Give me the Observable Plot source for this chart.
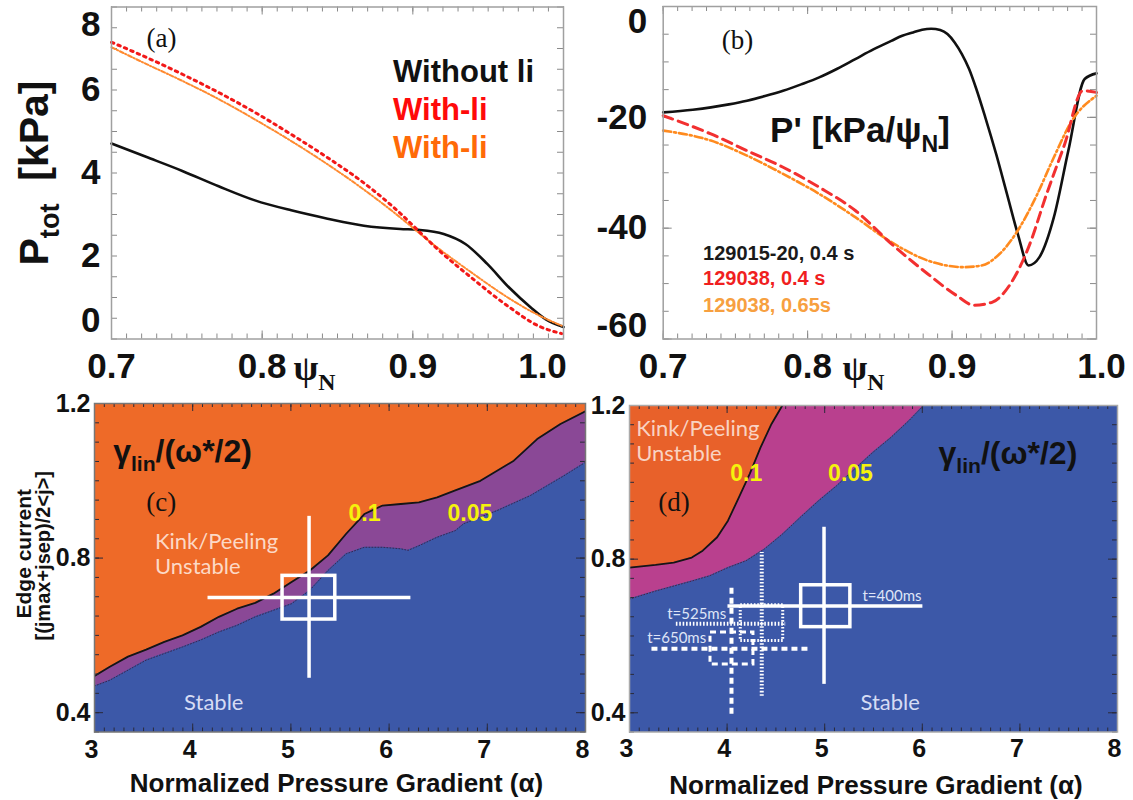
<!DOCTYPE html>
<html><head><meta charset="utf-8">
<script src="https://cdn.jsdelivr.net/npm/d3@7"></script>
<script src="https://cdn.jsdelivr.net/npm/@observablehq/plot@0.6"></script>
<style>
html,body{margin:0;padding:0;background:#fff;}
#fig{position:relative;width:1133px;height:800px;overflow:hidden;background:#fff;}
#fig > svg{position:absolute;overflow:visible;}
</style></head><body><div id="fig"></div>
<script>
// ---------------- DATA ----------------
// Panel (a): total pressure vs psi_N
const psiBlackA = [0.700,0.7229,0.7470,0.7711,0.7952,0.8193,0.8434,0.8675,0.8916,0.9036,0.9205,0.9349,0.9494,0.9639,0.9783,0.9880,1.000];
const pWithoutLiA = [4.71,4.39,4.05,3.68,3.34,3.10,2.90,2.73,2.65,2.63,2.53,2.29,1.81,1.24,0.76,0.48,0.29];
const psiLiA = [0.700,0.7229,0.7470,0.7711,0.7952,0.8193,0.8434,0.8675,0.8916,0.9036,0.9157,0.9398,0.9639,0.9831,0.9988];
const pWithLi04A = [7.15,6.79,6.38,5.94,5.46,4.93,4.37,3.76,3.03,2.61,2.19,1.45,0.77,0.32,0.13];
const pWithLi065A = [7.03,6.63,6.22,5.78,5.29,4.77,4.21,3.60,2.93,2.57,2.22,1.58,0.98,0.58,0.32];
const psiTicks = [0.7, 0.8, 0.9, 1.0];
const pTicksA = [0, 2, 4, 6, 8];
const legendA = ["Without li", "With-li", "With-li"];

// Panel (b): pressure gradient vs psi_N
const psiBlackB = [0.700,0.7205,0.733,0.7455,0.758,0.7705,0.783,0.7955,0.808,0.8205,0.833,0.8455,0.858,0.8655,0.873,0.8793,0.8855,0.8918,0.8968,0.9018,0.9068,0.9118,0.9168,0.923,0.9305,0.938,0.9455,0.953,0.9605,0.9705,0.9805,0.9918,1.000];
const dpWithoutLiB = [-19.10,-18.62,-18.20,-17.66,-17.00,-16.16,-15.20,-14.05,-12.79,-11.23,-9.49,-7.75,-6.19,-5.29,-4.68,-4.20,-4.02,-4.26,-4.98,-6.49,-8.59,-11.29,-14.89,-20.0,-26.61,-33.81,-41.02,-46.73,-45.23,-38.02,-26.01,-13.09,-12.07];
const psiLi04B = [0.700,0.733,0.758,0.783,0.808,0.833,0.858,0.883,0.903,0.9155,0.928,0.9405,0.953,0.9655,0.978,0.9905,1.000];
const dpLi04B = [-19.70,-23.00,-26.01,-29.01,-32.61,-36.82,-42.82,-48.23,-52.13,-53.93,-53.33,-50.03,-43.42,-33.81,-24.80,-15.20,-15.50];
const psiLi065B = [0.700,0.733,0.758,0.783,0.808,0.833,0.858,0.883,0.908,0.9205,0.933,0.9455,0.958,0.9705,0.983,1.000];
const dpLi065B = [-22.40,-24.20,-26.91,-30.21,-33.81,-38.02,-42.52,-45.83,-47.03,-46.73,-44.62,-40.42,-34.41,-27.21,-20.60,-16.10];
const dpTicksB = [-60, -40, -20, 0];
const legendB = ["129015-20, 0.4 s", "129038, 0.4 s", "129038, 0.65s"];

// Panel (c): stability diagram, without lithium
const alphaC01 = [3.0,3.156,3.341,3.526,3.711,3.896,4.081,4.267,4.452,4.637,4.822,5.007,5.193,5.378,5.563,5.748,5.933,6.119,6.304,6.489,6.674,6.93,7.27,7.508,7.745,8.0];
const jC01 = [0.495,0.519,0.545,0.563,0.583,0.600,0.622,0.648,0.669,0.684,0.708,0.738,0.768,0.807,0.863,0.914,0.936,0.940,0.944,0.957,0.975,1.0,1.052,1.108,1.147,1.18];
const alphaC005 = [3.0,3.156,3.341,3.526,3.711,3.896,4.081,4.267,4.452,4.637,4.822,5.007,5.193,5.378,5.563,5.748,5.933,6.119,6.193,6.304,6.489,6.674,6.76,7.1,7.44,7.78,8.0];
const jC005 = [0.469,0.484,0.510,0.536,0.553,0.570,0.588,0.609,0.626,0.648,0.665,0.682,0.717,0.768,0.811,0.828,0.828,0.824,0.820,0.832,0.854,0.871,0.889,0.923,0.962,1.013,1.048];
// experimental point (c): centre, error bars, box
const crossC = [5.185, 0.698];
const crossErrC = [4.156, 6.222, 0.489, 0.908];
const boxC = [4.915, 5.452, 0.641, 0.754];

// Panel (d): stability diagram, with lithium
const alphaD01 = [3.0,3.267,3.453,3.638,3.750,3.898,4.009,4.121,4.232,4.343,4.455,4.566];
const jD01 = [0.778,0.785,0.791,0.804,0.822,0.857,0.900,0.961,1.022,1.091,1.152,1.2];
const alphaD005 = [3.0,3.267,3.453,3.638,3.824,4.009,4.195,4.380,4.566,4.751,4.937,5.122,5.308,5.494,5.679,5.865,6.013];
const jD005 = [0.696,0.717,0.730,0.743,0.757,0.778,0.796,0.826,0.865,0.909,0.952,0.991,1.035,1.078,1.117,1.161,1.2];
const crossTimesD = ["t=400ms", "t=525ms", "t=650ms"];
const crossAlphaD = [4.993, 4.355, 4.045];
const crossAlphaLoD = [4.009, 3.480, 3.230];
const crossAlphaHiD = [6.006, 4.600, 4.860];
const crossJD = [0.678, 0.632, 0.567];
const crossJLoD = [0.474, 0.443, 0.396];
const crossJHiD = [0.883, 0.817, 0.730];
const boxAlphaLoD = [4.759, 4.140, 3.830];
const boxAlphaHiD = [5.263, 4.575, 4.270];
const boxJLoD = [0.623, 0.587, 0.526];
const boxJHiD = [0.732, 0.680, 0.609];
const alphaTicks = [3, 4, 5, 6, 7, 8];
const jTicks = [0.4, 0.8, 1.2];
const jDomain = [0.35, 1.2];

// ---------------- STYLE ----------------
const SANS = "'Liberation Sans', Arial, Helvetica, sans-serif";
const SERIF = "'Liberation Serif', 'Times New Roman', serif";
const HUM = "Lato, 'Open Sans', sans-serif";
const BLUE = "#3c58a8", ORANGE_C = "#ee6a28", PURPLE_C = "#8a4896", ORANGE_D = "#e8612a", MAGENTA_D = "#b9408e";
const YELLOW = "#f5f20c";
const baseStyle = {background: "transparent", overflow: "visible", fontFamily: SANS, color: "#111"};
const fig = document.getElementById("fig");
const fmt1 = d3.format(".1f");

function frameTicks(xv, yv, lenX, lenY, W, H, stroke) {
  const o = {stroke, strokeWidth: 1};
  return [
    Plot.tickX(xv, {x: d => d, insetTop: H - lenX, ...o}),
    Plot.tickX(xv, {x: d => d, insetBottom: H - lenX, ...o}),
    Plot.tickY(yv, {y: d => d, insetRight: W - lenY, ...o}),
    Plot.tickY(yv, {y: d => d, insetLeft: W - lenY, ...o})
  ];
}

function richify(svg) {
  svg.querySelectorAll("text").forEach(t => {
    const s = t.textContent;
    if (!s.includes("_{")) return;
    const fs = parseFloat(getComputedStyle(t).fontSize) || 16;
    const parts = s.split(/(_\{[^}]*\})/).filter(p => p.length);
    t.textContent = "";
    let down = false;
    for (const p of parts) {
      const span = document.createElementNS("http://www.w3.org/2000/svg", "tspan");
      if (p.startsWith("_{")) {
        span.textContent = p.slice(2, -1);
        span.setAttribute("font-size", (0.66 * fs).toFixed(1));
        span.setAttribute("dy", (0.28 * fs).toFixed(1));
        down = true;
      } else {
        span.textContent = p;
        if (down) { span.setAttribute("dy", (-0.28 * fs).toFixed(1)); down = false; }
      }
      t.appendChild(span);
    }
  });
}

function place(svg, left, top) {
  svg.style.left = left + "px";
  svg.style.top = top + "px";
  fig.appendChild(svg);
  richify(svg);
}

const bigTick = {fontSize: 35, fontWeight: "bold", fill: "#111", lineAnchor: "middle"};
const smallTick = {fontSize: 25, fontWeight: "bold", fill: "#111", lineAnchor: "middle"};

// ---------------- PANEL (a) ----------------
{
  const L = {w: 570, h: 390, ml: 111, mr: 7, mt: 6.5, mb: 51.5};
  const W = L.w - L.ml - L.mr, H = L.h - L.mt - L.mb;
  const plot = Plot.plot({
    width: L.w, height: L.h, marginLeft: L.ml, marginRight: L.mr, marginTop: L.mt, marginBottom: L.mb,
    x: {domain: [0.7, 1.0], axis: null}, y: {domain: [0, 8], axis: null},
    style: baseStyle,
    marks: [
      ...frameTicks(d3.range(70, 101).map(d => d / 100), d3.range(0, 17).map(d => d / 2), 5, 6, W, H, "#8a8a8a"),
      ...frameTicks(psiTicks, [], 8, 0, W, H, "#8a8a8a"),
      Plot.line(pWithoutLiA, {x: psiBlackA, y: pWithoutLiA, stroke: "#111", strokeWidth: 2.6, curve: "monotone-x"}),
      Plot.line(pWithLi065A, {x: psiLiA, y: pWithLi065A, stroke: "#ff8a30", strokeWidth: 2, strokeDasharray: "4,2,1.2,2", curve: "monotone-x"}),
      Plot.line(pWithLi04A, {x: psiLiA, y: pWithLi04A, stroke: "#f21818", strokeWidth: 3, strokeDasharray: "2.5,4.5", curve: "monotone-x"}),
      Plot.frame({stroke: "#a0a0a0", strokeWidth: 1.5}),
      Plot.text(psiTicks.slice(0, 3), {x: d => d, frameAnchor: "bottom", dy: 27.5, text: fmt1, ...bigTick}),
      Plot.text(psiTicks.slice(3), {x: d => d, frameAnchor: "bottom", dy: 27.5, dx: -21, text: fmt1, ...bigTick}),
      Plot.text(pTicksA.slice(1, 4), {y: d => d, frameAnchor: "left", dx: -11, textAnchor: "end", text: d => String(d), ...bigTick}),
      Plot.text(pTicksA.slice(4), {y: d => d, frameAnchor: "left", dx: -11, dy: 17.5, textAnchor: "end", text: d => String(d), ...bigTick}),
      Plot.text(pTicksA.slice(0, 1), {y: d => d, frameAnchor: "left", dx: -11, dy: -18, textAnchor: "end", text: d => String(d), ...bigTick}),
      Plot.text(["ψ_{N}"], {x: [0.8208], frameAnchor: "bottom", dy: 29, textAnchor: "start", lineAnchor: "middle", fontSize: 36, fontWeight: "bold", fontFamily: SERIF, fill: "#111"}),
      Plot.text(["P_{tot}  [kPa]"], {frameAnchor: "left", dx: -77, rotate: -90, textAnchor: "middle", lineAnchor: "middle", fontSize: 41, fontWeight: "bold", fill: "#111"}),
      Plot.text(["(a)"], {x: [0.7332], y: [7.24], textAnchor: "middle", lineAnchor: "middle", fontSize: 27, fontFamily: SERIF, fill: "#111"}),
      Plot.text(legendA, {x: [0.8869, 0.8869, 0.8869], y: [6.42, 5.51, 4.59], fill: ["#111", "#ff0a0a", "#ff6a08"], textAnchor: "start", lineAnchor: "middle", fontSize: 31, fontWeight: "bold"})
    ]
  });
  place(plot, 0, 0);
}

// ---------------- PANEL (b) ----------------
{
  const L = {w: 558, h: 390, ml: 87.7, mr: 37, mt: 6, mb: 51.5};
  const W = L.w - L.ml - L.mr, H = L.h - L.mt - L.mb;
  const plot = Plot.plot({
    width: L.w, height: L.h, marginLeft: L.ml, marginRight: L.mr, marginTop: L.mt, marginBottom: L.mb,
    x: {domain: [0.7, 1.0], axis: null}, y: {domain: [-60, 0], axis: null},
    style: baseStyle,
    marks: [
      ...frameTicks(d3.range(70, 101).map(d => d / 100), d3.range(-60, 1, 5), 5, 6, W, H, "#8a8a8a"),
      ...frameTicks(psiTicks, dpTicksB, 8, 9, W, H, "#8a8a8a"),
      Plot.line(dpWithoutLiB, {x: psiBlackB, y: dpWithoutLiB, stroke: "#111", strokeWidth: 2.6, curve: "monotone-x"}),
      Plot.line(dpLi065B, {x: psiLi065B, y: dpLi065B, stroke: "#ff8a1e", strokeWidth: 2.6, strokeDasharray: "8,3,2,3", curve: "monotone-x"}),
      Plot.line(dpLi04B, {x: psiLi04B, y: dpLi04B, stroke: "#f23030", strokeWidth: 3, strokeDasharray: "10,6", curve: "monotone-x"}),
      Plot.frame({stroke: "#a0a0a0", strokeWidth: 1.5}),
      Plot.text(psiTicks.slice(0, 3), {x: d => d, frameAnchor: "bottom", dy: 27.5, text: fmt1, ...bigTick}),
      Plot.text(psiTicks.slice(3), {x: d => d, frameAnchor: "bottom", dy: 27.5, dx: 5, text: fmt1, ...bigTick}),
      Plot.text(dpTicksB.slice(1, 3), {y: d => d, frameAnchor: "left", dx: -16, textAnchor: "end", text: d => String(d), ...bigTick}),
      Plot.text(dpTicksB.slice(3), {y: d => d, frameAnchor: "left", dx: -16, dy: 15, textAnchor: "end", text: d => String(d), ...bigTick}),
      Plot.text(dpTicksB.slice(0, 1), {y: d => d, frameAnchor: "left", dx: -16, dy: -13.5, textAnchor: "end", text: d => String(d), ...bigTick}),
      Plot.text(["ψ_{N}"], {x: [0.8241], frameAnchor: "bottom", dy: 29, textAnchor: "start", lineAnchor: "middle", fontSize: 36, fontWeight: "bold", fontFamily: SERIF, fill: "#111"}),
      Plot.text(["(b)"], {x: [0.7514], y: [-6.1], textAnchor: "middle", lineAnchor: "middle", fontSize: 27, fontFamily: SERIF, fill: "#111"}),
      Plot.text(["P' [kPa/ψ_{N}]"], {x: [0.774], y: [-22.4], textAnchor: "start", lineAnchor: "middle", fontSize: 35, fontWeight: "bold", fill: "#111"}),
      Plot.text(legendB, {x: [0.7276, 0.7276, 0.7276], y: [-44.6, -49.1, -54.0], fill: ["#1a1a1a", "#f01f1f", "#f7a040"], textAnchor: "start", lineAnchor: "middle", fontSize: 20, fontWeight: "bold"})
    ]
  });
  place(plot, 575, 0);
}

// ---------------- helpers for (c)/(d) ----------------
function stabilityTicks(W, H) {
  return [
    ...frameTicks(d3.range(30, 81).map(d => d / 10), d3.range(7, 25).map(d => d / 20), 4, 5, W, H, "#2a2a3a"),
    ...frameTicks(alphaTicks, jTicks, 8, 9, W, H, "#2a2a3a")
  ];
}
function tickLabelsBottom(dyX) {
  return [
    Plot.text(alphaTicks, {x: d => d, frameAnchor: "bottom", dy: dyX, dx: -3, text: d => String(d), ...smallTick}),
    Plot.text(jTicks, {y: d => d, frameAnchor: "left", dx: -4, textAnchor: "end", text: fmt1, ...smallTick})
  ];
}
const xTitle = "Normalized Pressure Gradient (α)";
const gammaTitle = "γ_{lin}/(ω*/2)";

// ---------------- PANEL (c) ----------------
{
  const L = {w: 590, h: 410, ml: 94, mr: 5, mt: 13, mb: 68.5};
  const W = L.w - L.ml - L.mr, H = L.h - L.mt - L.mb;
  const top = jDomain[1];
  const plot = Plot.plot({
    width: L.w, height: L.h, marginLeft: L.ml, marginRight: L.mr, marginTop: L.mt, marginBottom: L.mb,
    x: {domain: [3, 8], axis: null}, y: {domain: jDomain, axis: null},
    style: baseStyle,
    marks: [
      Plot.frame({fill: BLUE, stroke: null}),
      Plot.areaY(jC005, {x: alphaC005, y1: jC005, y2: jC005.map(() => top), fill: PURPLE_C, clip: true}),
      Plot.areaY(jC01, {x: alphaC01, y1: jC01, y2: jC01.map(() => top), fill: ORANGE_C, clip: true}),
      Plot.line(jC005, {x: alphaC005, y: jC005, stroke: "#3c2350", strokeWidth: 1, strokeDasharray: "1,2", clip: true}),
      Plot.line(jC01, {x: alphaC01, y: jC01, stroke: "#151515", strokeWidth: 1.8, clip: true}),
      ...stabilityTicks(W, H),
      Plot.ruleX([crossC[0]], {x: d => d, y1: crossErrC[2], y2: crossErrC[3], stroke: "white", strokeWidth: 3.5}),
      Plot.ruleY([crossC[1]], {y: d => d, x1: crossErrC[0], x2: crossErrC[1], stroke: "white", strokeWidth: 3.5}),
      Plot.rect([0], {x1: boxC[0], x2: boxC[1], y1: boxC[2], y2: boxC[3], fill: "none", stroke: "white", strokeWidth: 3.5}),
      Plot.frame({stroke: "#777", strokeWidth: 1.5}),
      ...tickLabelsBottom(17.5),
      Plot.text([xTitle], {frameAnchor: "bottom", dy: 51.5, dx: -3.5, textAnchor: "middle", lineAnchor: "middle", fontSize: 26, fontWeight: "bold", fill: "#111"}),
      Plot.text(["Edge current"], {frameAnchor: "left", dx: -70, dy: -14, rotate: -90, textAnchor: "middle", lineAnchor: "middle", fontSize: 21, fontWeight: "bold", fill: "#111"}),
      Plot.text(["[(jmax+jsep)/2<j>]"], {frameAnchor: "left", dx: -51, dy: -12, rotate: -90, textAnchor: "middle", lineAnchor: "middle", fontSize: 20, fontWeight: "bold", fill: "#111"}),
      Plot.text([gammaTitle], {x: [3.19], y: [1.074], textAnchor: "start", lineAnchor: "middle", fontSize: 32, fontWeight: "bold", fill: "#111"}),
      Plot.text(["(c)"], {x: [3.68], y: [0.945], textAnchor: "middle", lineAnchor: "middle", fontSize: 27, fontFamily: SERIF, fill: "#111"}),
      Plot.text(["0.1", "0.05"], {x: [5.587, 6.595], y: [0.916, 0.916], textAnchor: "start", lineAnchor: "middle", fontSize: 23, fontWeight: "bold", fill: YELLOW}),
      Plot.text(["Kink/Peeling", "Unstable"], {x: [3.616, 3.616], y: [0.842, 0.777], textAnchor: "start", lineAnchor: "middle", fontSize: 22, fontFamily: HUM, fill: "#fcd9c6"}),
      Plot.text(["Stable"], {x: [3.912], y: [0.425], textAnchor: "start", lineAnchor: "middle", fontSize: 22, fontFamily: HUM, fill: "#d6dcf4"})
    ]
  });
  place(plot, 0, 390);
}

// ---------------- PANEL (d) ----------------
{
  const L = {w: 548, h: 410, ml: 44, mr: 16, mt: 15, mb: 68.5};
  const W = L.w - L.ml - L.mr, H = L.h - L.mt - L.mb;
  const top = jDomain[1];
  const dashes = [null, "1.6,1.8", "6,4"];
  const crossMarks = [];
  crossTimesD.forEach((t, i) => {
    const o = {stroke: "white", strokeWidth: i === 0 ? 3.5 : 4, strokeDasharray: dashes[i]};
    crossMarks.push(
      Plot.ruleX([crossAlphaD[i]], {x: d => d, y1: crossJLoD[i], y2: crossJHiD[i], ...o}),
      Plot.ruleY([crossJD[i]], {y: d => d, x1: crossAlphaLoD[i], x2: crossAlphaHiD[i], ...o}),
      Plot.rect([i], {x1: boxAlphaLoD[i], x2: boxAlphaHiD[i], y1: boxJLoD[i], y2: boxJHiD[i], fill: "none", ...o, strokeWidth: i === 0 ? 3.5 : 3})
    );
  });
  const plot = Plot.plot({
    width: L.w, height: L.h, marginLeft: L.ml, marginRight: L.mr, marginTop: L.mt, marginBottom: L.mb,
    x: {domain: [3, 8], axis: null}, y: {domain: jDomain, axis: null},
    style: baseStyle,
    marks: [
      Plot.frame({fill: BLUE, stroke: null}),
      Plot.areaY(jD005, {x: alphaD005, y1: jD005, y2: jD005.map(() => top), fill: MAGENTA_D, clip: true}),
      Plot.areaY(jD01, {x: alphaD01, y1: jD01, y2: jD01.map(() => top), fill: ORANGE_D, clip: true}),
      Plot.line(jD005, {x: alphaD005, y: jD005, stroke: "#4a2348", strokeWidth: 1, strokeDasharray: "1,2", clip: true}),
      Plot.line(jD01, {x: alphaD01, y: jD01, stroke: "#151515", strokeWidth: 1.8, clip: true}),
      ...stabilityTicks(W, H),
      ...crossMarks,
      Plot.frame({stroke: "#aaa", strokeWidth: 1.5}),
      ...tickLabelsBottom(16.5),
      Plot.text([xTitle], {frameAnchor: "bottom", dy: 53.5, dx: 2.5, textAnchor: "middle", lineAnchor: "middle", fontSize: 26, fontWeight: "bold", fill: "#111"}),
      Plot.text([gammaTitle], {x: [6.166], y: [1.074], textAnchor: "start", lineAnchor: "middle", fontSize: 32, fontWeight: "bold", fill: "#111"}),
      Plot.text(["(d)"], {x: [3.457], y: [0.948], textAnchor: "middle", lineAnchor: "middle", fontSize: 27, fontFamily: SERIF, fill: "#111"}),
      Plot.text(["0.1", "0.05"], {x: [4.033, 5.035], y: [1.022, 1.022], textAnchor: "start", lineAnchor: "middle", fontSize: 23, fontWeight: "bold", fill: YELLOW}),
      Plot.text(["Kink/Peeling", "Unstable"], {x: [3.068, 3.068], y: [1.139, 1.074], textAnchor: "start", lineAnchor: "middle", fontSize: 22, fontFamily: HUM, fill: "#f9d3c3"}),
      Plot.text(["Stable"], {x: [5.367], y: [0.426], textAnchor: "start", lineAnchor: "middle", fontSize: 22, fontFamily: HUM, fill: "#d6dcf4"}),
      Plot.text(crossTimesD, {x: [5.387, 3.386, 3.181], y: [0.704, 0.657, 0.594], textAnchor: "start", lineAnchor: "middle", fontSize: 15, fontFamily: HUM, fill: "#dfe5f7"})
    ]
  });
  place(plot, 585, 390);
}
</script>
</body></html>
